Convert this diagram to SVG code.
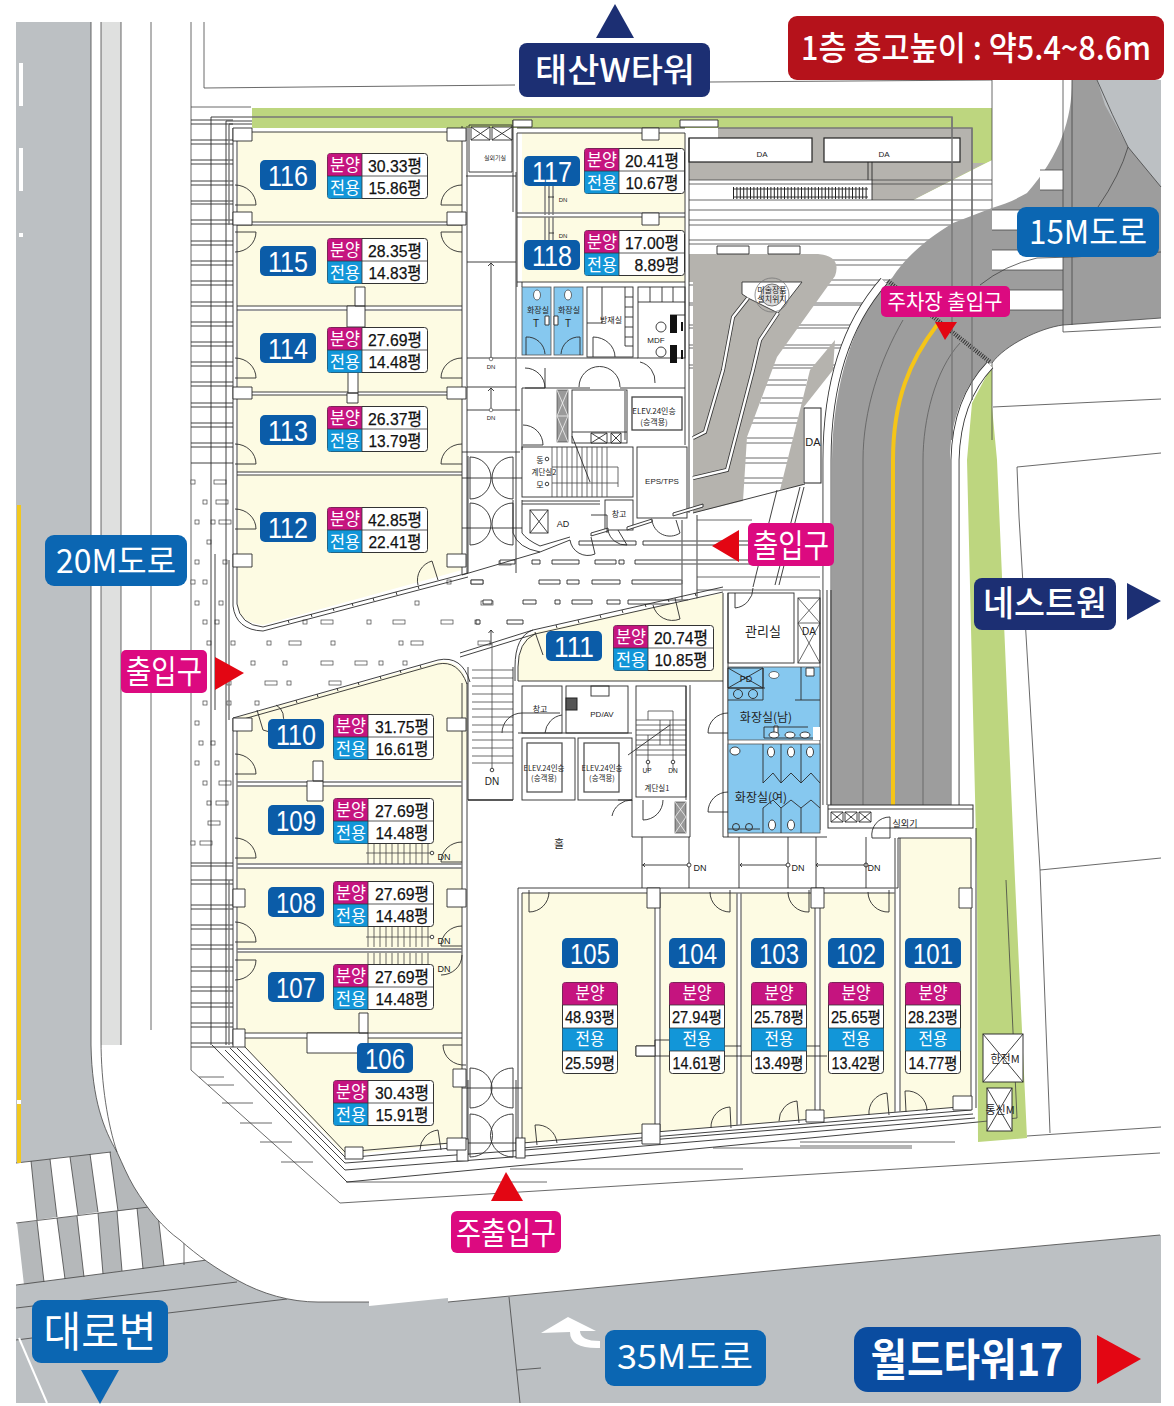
<svg xmlns="http://www.w3.org/2000/svg" width="1174" height="1406" viewBox="0 0 1174 1406">
<style>
text{font-family:"Liberation Sans","Noto Sans CJK KR",sans-serif;text-anchor:middle}
.k{font-family:"Noto Sans CJK KR","Liberation Sans",sans-serif}
.w{fill:none;stroke:#2b2b2b;stroke-width:.9}
.t{fill:none;stroke:#444;stroke-width:.8}
.g{fill:none;stroke:#777;stroke-width:1.4}
.c{fill:#fff;stroke:#2b2b2b;stroke-width:.9}
.d{fill:none;stroke:#2b2b2b;stroke-width:.9}
.s{fill:#b5b3ae}
.y{fill:#fdfbe3}
.b{fill:#86c8ef;stroke:#555;stroke-width:.8}
.n{fill:#fff;font-size:29px}
.bn{fill:#0b5ca8}
.l{fill:#fff;font-size:17px}
.v{fill:#111;font-size:17px;stroke:#111;stroke-width:.25}
.f{fill:#222;font-size:8px}
.big{fill:#fff}
.pk{fill:#dc0a80}
.rd{fill:#e30613}
.nv{fill:#1c2f73}
.bl{fill:#0b66b2}
</style>
<defs>
<g id="th"><rect x=".5" y=".5" width="100" height="45" rx="3" fill="#fff" stroke="#333"/><path d="M.5,23V3Q.5,.5 3,.5H35V23Z" fill="#c5147f"/><path d="M.5,23H35V45.5H3Q.5,45.5 .5,43Z" fill="#1296d8"/><path d="M.5,23H100.5M35,.5V45.5" fill="none" stroke="#333" stroke-width=".8"/></g>
<g id="tv"><rect x=".5" y=".5" width="55" height="91" rx="3" fill="#fff" stroke="#333"/><path d="M.5,23V3Q.5,.5 3,.5H53Q55.5,.5 55.5,3V23Z" fill="#c5147f"/><rect x=".5" y="46" width="55" height="23" fill="#1296d8"/><path d="M.5,23H55.5M.5,46H55.5M.5,69H55.5" fill="none" stroke="#333" stroke-width=".8"/></g>
<rect id="ps" width="4" height="4" fill="#fff" stroke="#444" stroke-width=".7"/>
<rect id="pw" width="12" height="4" fill="#fff" stroke="#444" stroke-width=".7"/>
</defs>
<rect width="1174" height="1406" fill="#fff"/>
<g id="site">
<rect x="16" y="22" width="1145" height="1381" fill="#bcc0c3"/>
<path d="M16,1163L111,1152L207,1260L16,1285Z" fill="#fff"/>
<path d="M31,1161L50,1159L57,1217L37,1220ZM70,1157L90,1154L98,1212L78,1215ZM110,1152L140,1148L160,1206L118,1211ZM17,1223L37,1221L44,1282L24,1285ZM57,1218L77,1216L84,1277L65,1279ZM98,1213L117,1211L122,1271L103,1274ZM137,1208L157,1206L164,1266L143,1269Z" fill="#b5b8ba"/>
<path class="t" d="M16,1163L111,1152M16,1223L149,1207M16,1285L207,1260M16,1308L237,1282M168,1313L287,1299M16,1340L32,1338M31,1161L37,1220M50,1159L57,1217M70,1157L78,1215M90,1154L98,1212M110,1152L118,1211M37,1221L44,1282M57,1218L65,1279M77,1216L84,1277M98,1213L103,1274M117,1211L122,1271M137,1208L143,1269M157,1206L164,1266M184,1202L184,1265"/>
<path d="M91,0V1045C92,1100 104,1130 117,1152C123,1165 127,1175 134,1187C148,1210 163,1228 180,1240C198,1256 215,1268 237,1280C262,1294 290,1302 318,1302H369V1306L448,1298V1302L800,1268L1160,1235H1174V0Z" fill="#fff"/>
<path class="t" d="M91,22V1045C92,1100 104,1130 117,1152C123,1165 127,1175 134,1187C148,1210 163,1228 180,1240C198,1256 215,1268 237,1280C262,1294 290,1302 318,1302H369M448,1302L800,1268L1160,1235"/>
<rect x="101" y="22" width="20" height="1023" fill="#dfe0df"/>
<path class="t" d="M101,22V1040C101,1085 108,1125 117,1152M121,22V1045M151,22V1030M191,22V1070M204,22V88L515,85M710,82L992,80M191,107H251"/>
<path d="M19,63h4v43h-4zM19,148h4v43h-4zM19,233h4v4h-4z" fill="#fff"/>
<rect x="17" y="505" width="4" height="658" fill="#f2c81e"/>
<rect x="17" y="1100" width="4" height="4" fill="#fff"/>
<path d="M19,1338L47,1403" stroke="#fff" stroke-width="2" fill="none"/>
<path d="M541,1333L568,1317L596,1331H580Q580,1341 600,1341V1348Q570,1349 570,1332Z" fill="#fff"/>
<path class="t" d="M509,1297L520,1403M517,1370L541,1368"/>
<path class="t" d="M191,1070L340,1203L1160,1153M346,1182H547M510,1169H743M713,1148H912M912,1146H800M800,1142H955"/>
<path class="t" d="M1017,467L1161,453M1017,467L1019,517L1040,870L1050,1133M1040,870L1161,858M1027,1136L1161,1127M993,407L1161,399"/>
</g>
<g id="landscape">
<rect x="252" y="108" width="740" height="20" fill="#bdd67f"/>
<path d="M718,128H992V160L913,200H872V180H689V138H718Z" fill="#bdd67f"/>
<path class="s" d="M718,128H972V163H985L913,200H872V180H689V138H718Z"/>
<path d="M973,128H992V160L985,163H973Z" fill="#bdd67f"/>
<path class="g" d="M252,117H952V440M718,128H972V400"/>
<path d="M992,365L992,407L997,460L1015,880L1027,1138L978,1142L977,880L967,460L972,403Z" fill="#bdd67f"/>
<path class="t" d="M1006,880L1017,1118L978,1122M992,80V440"/>
<path class="t" d="M689,180H992M689,184H992M689,200H992M689,210H992M689,220H992M689,225H992M689,240H992M689,244H992M689,260H992M689,265H992M689,280H992M689,285H992M689,303H880M689,305H880M689,325H860M689,328H860M689,345H850M689,348H850M689,365H840M689,368H840"/>
<line x1="733" y1="193" x2="868" y2="193" stroke="#222" stroke-width="12" stroke-dasharray="1 2.4"/>
<path class="w" d="M733,189H868M733,197H868"/>
<path class="w" d="M872,162V200M868,162V180"/>
<path class="t" d="M768,380H807M766,385H806M762,398H803M760,403H802M754,418H798M752,423H797M747,438H793M746,443H792M745,458H788M745,463H787M744,478H783M744,483H782"/>
<path class="s" d="M689,254H818Q842,256 835,276L777,357L747,437L743,501L693,513V282H689Z"/>
<path class="s" d="M833,370L803,408V485L780,490L810,370L835,340Z"/>
<path class="w" d="M693,513L805,484"/>
<path d="M742,282H802L778,313L748,298L742,294Z" fill="#fff" stroke="#333" stroke-width=".9"/>
<path d="M748,298L733,317L723,370L705,432L693,438M778,313L760,340L753,370L727,470L693,478" fill="none" stroke="#333" stroke-width="4"/>
<path d="M748,298L733,317L723,370L705,432L693,438M778,313L760,340L753,370L727,470L693,478" fill="none" stroke="#fff" stroke-width="2.4"/>
<path class="c" d="M717,246h32v8h-32zM768,246h32v8h-32z"/>
<circle cx="772" cy="295" r="17" fill="none" stroke="#777" stroke-width=".8"/>
<circle cx="772" cy="295" r="11" fill="#999" fill-opacity=".35" stroke="#555" stroke-width=".8"/>
<text class="k f" x="772" y="293" style="font-size:8px">미술장품</text>
<text class="k f" x="772" y="302" style="font-size:8px">설치위치</text>
<rect x="689" y="138" width="123" height="24" fill="#fff" stroke="#222" stroke-width="1.2"/>
<rect x="824" y="138" width="136" height="24" fill="#fff" stroke="#222" stroke-width="1.2"/>
<text class="f" x="762" y="157">DA</text>
<text class="f" x="884" y="157">DA</text>
</g>
<g id="ramp">
<path d="M1072,80C1072,120 1060,155 1027,193C1015,200 1005,204 992,208L953,223C925,240 905,258 892,278L885,283C855,320 833,380 832,460V805H950V460C950,420 965,385 985,365L992,363C1005,345 1040,328 1063,325L1161,318V80Z" fill="#9d9d9d"/>
<path d="M1097,80L1105,105L1128,147L1161,187V80Z" fill="#bcc0c3"/>
<path d="M992,210h71v20h-71zM992,250h71v20h-71zM992,290h71v20h-71zM1040,170h23v20h-23z" fill="#fff"/>
<path class="t" d="M1063,80V332L1161,327M1072,80V325M1098,207Q1120,175 1128,147Q1112,115 1097,80M1128,147L1161,187M980,285Q1005,265 1037,258L1073,257L1161,252M992,210H1063M992,230H1063M992,250H1063M992,270H1063M992,290H1063M992,310H1063M1040,190H1063M1040,170H1063M992,363C1005,345 1040,328 1063,325L1161,318"/>
<path d="M863,805V460C863,410 880,360 903,320M923,805V460C923,420 935,370 960,343" fill="none" stroke="#555" stroke-width=".7"/>
<path d="M893,805V460C893,400 910,360 937,325" fill="none" stroke="#f5c518" stroke-width="4"/>
<path d="M884,281C848,322 827,380 827,460V805" fill="none" stroke="#333" stroke-width="9"/>
<path d="M884,281C848,322 827,380 827,460V805" fill="none" stroke="#fff" stroke-width="7.2"/>
<path d="M990,365C968,388 956,420 955,460V805" fill="none" stroke="#333" stroke-width="9"/>
<path d="M990,365C968,388 956,420 955,460V805" fill="none" stroke="#fff" stroke-width="7.2"/>
<line x1="888" y1="281" x2="990" y2="362" stroke="#333" stroke-width="4.5" stroke-dasharray="1 1.3"/>
<path class="g" d="M952,117V440M972,128V400"/>
<rect x="804" y="408" width="17" height="75" fill="#fff" stroke="#222"/>
<text class="f" x="813" y="446" style="font-size:11px">DA</text>
<path d="M804,487L779,585M800,487L775,585M777,490L753,587" class="w"/>
</g>
<g id="paving">
<use href="#ps" x="447" y="580"/><use href="#pw" x="471" y="580"/><use href="#ps" x="415" y="601"/><use href="#pw" x="481" y="601"/><use href="#ps" x="303" y="620"/><use href="#pw" x="321" y="620"/><use href="#ps" x="367" y="620"/><use href="#pw" x="393" y="620"/><use href="#pw" x="441" y="620"/><use href="#ps" x="475" y="620"/><use href="#pw" x="499" y="561"/><use href="#ps" x="267" y="641"/><use href="#pw" x="289" y="641"/><use href="#ps" x="331" y="641"/><use href="#ps" x="399" y="641"/><use href="#pw" x="411" y="641"/><use href="#pw" x="478" y="641"/><use href="#ps" x="231" y="641"/><use href="#ps" x="207" y="641"/><use href="#ps" x="251" y="661"/><use href="#ps" x="283" y="661"/><use href="#pw" x="321" y="661"/><use href="#pw" x="355" y="661"/><use href="#ps" x="379" y="661"/><use href="#ps" x="403" y="661"/><use href="#pw" x="265" y="681"/><use href="#ps" x="287" y="681"/><use href="#pw" x="329" y="681"/><use href="#ps" x="227" y="681"/><use href="#ps" x="255" y="701"/><use href="#ps" x="227" y="701"/><use href="#ps" x="203" y="701"/><use href="#ps" x="203" y="620"/><use href="#ps" x="215" y="620"/><use href="#ps" x="195" y="601"/><use href="#ps" x="219" y="601"/><use href="#ps" x="195" y="560"/><use href="#ps" x="223" y="560"/><use href="#ps" x="191" y="580"/><use href="#ps" x="203" y="580"/><use href="#ps" x="203" y="500"/><use href="#pw" x="216" y="500"/><use href="#ps" x="195" y="520"/><use href="#ps" x="211" y="520"/><use href="#pw" x="219" y="520"/><use href="#ps" x="207" y="540"/><use href="#ps" x="191" y="480"/><use href="#pw" x="214" y="480"/><use href="#ps" x="195" y="721"/><use href="#ps" x="199" y="741"/><use href="#ps" x="211" y="741"/><use href="#ps" x="195" y="761"/><use href="#ps" x="215" y="761"/><use href="#ps" x="203" y="781"/><use href="#pw" x="219" y="781"/><use href="#ps" x="207" y="801"/><use href="#pw" x="216" y="801"/><use href="#pw" x="208" y="821"/><use href="#ps" x="191" y="841"/><use href="#pw" x="200" y="841"/>
<path class="c" d="M579,541h57v4h-57zM643,541h107v4h-107zM500,560h15v4h-15zM532,560h8v4h-8zM552,560h27v4h-27zM595,560h21v4h-21zM619,560h5v4h-5zM635,560h118v4h-118zM471,580h12v4h-12zM539,580h21v4h-21zM567,580h12v4h-12zM592,580h28v4h-28zM632,580h50v4h-50zM483,600h9v4h-9zM523,600h13v4h-13zM555,600h5v4h-5zM572,600h20v4h-20zM607,600h13v4h-13zM628,600h60v4h-60zM476,620h4v4h-4zM507,620h16v4h-16z"/>
<path class="g" d="M682,520V600M697,515V600"/>
<path class="t" d="M697,520H752M697,577H820M697,590H820"/>
</g>
<g id="stores">
<path class="y" d="M238,132H462V222H238ZM238,225H462V306H238ZM238,311H462V392H238ZM238,395H462V472H238ZM238,475H462V570L263,625Q238,622 238,605Z"/>
<path class="y" d="M238,717L438,662Q462,660 467,683V780H238ZM238,786H462V863H238ZM238,868H462V948H238ZM238,953H462V1033H238ZM245,1038H462V1143L345,1155L245,1047Z"/>
<path class="y" d="M518,681V667Q518,640 535,632L723,593V681Z"/>
<path class="y" d="M522,133H685V212H522ZM522,217H685V282H522Z"/>
<path class="y" d="M522,893H655V1132L522,1143ZM660,893H737V1125L660,1131.600ZM741,893H815V1119L741,1125ZM820,893H895V1112L820,1118.400ZM900,838H971V1106L900,1112Z"/>
</g>
<g id="walls">
<path class="w" d="M191,120H233M191,124H233M191,140H233M191,144H233M191,160H233M191,164H233M191,181H233M191,185H233M191,201H233M191,204H233M191,220H233M191,224H233M191,241H233M191,245H233M191,261H233M191,265H233M191,281H233M191,285H233M191,302H233M191,306H233M191,322H233M191,326H233M191,342H233M191,346H233M191,362H233M191,366H233M191,382H233M191,386H233M191,403H233M191,407H233M191,423H233M191,427H233M191,443H233M191,447H233M191,463H233M191,863H233M191,866H233M191,880H233M191,884H233M191,905H233M191,909H233M191,925H233M191,929H233M191,945H233M191,949H233M191,967H233M191,971H233M191,987H233M191,991H233M191,1003H233M191,1007H233M191,1023H233M191,1027H233M191,1043H233M191,1047H233"/>
<path class="w" d="M211,117V1045M226,121V1045M215,554V710"/>
<path class="g" d="M229,124V225M229,560V720M229,880V1045"/>
<path class="w" d="M211,117H252M226,121H252M229,124H252"/>
<path class="w" d="M233,128V606Q236,630 263,631L468,577M237,128V604Q240,625 263,627L468,573M233,718V1045M237,718V1045"/>
<path class="w" d="M462,126V574M467,126V573M462,683V1142M467,683V1150"/>
<path class="w" d="M233,132H466M237,222H462M237,225H462M237,306H462M237,310H462M237,392H462M237,395H462M237,472H462M237,475H462"/>
<path class="g" d="M237,782H462M237,786H462M237,864H462M237,868H462M237,949H462M237,952H462"/>
<path class="w" d="M237,1033H462M237,1038H462"/>
<path class="w" d="M233,718L438,660Q462,655 470,682M233,722L438,664Q458,660 467,684M468,667V800"/>
<path class="w" d="M460,653L533,630L723,587M460,657L535,634L723,592M518,681V667Q518,642 535,634M515,681V667Q515,636 533,630"/>
<path class="w" d="M556,625l1,3M578,620l1,3M600,615l1,3M622,610l1,3M645,604l1,3M668,599l1,3M695,593l1,3"/>
<path class="w" d="M491,630V645M488.500,633l2.500,-3l2.500,3"/>
<path class="w" d="M212,1045L347,1182M225,1050L345,1170M230,1048L345,1163M237,1048L345,1157M245,1047L345,1152"/>
<path class="t" d="M199,1077H224M208,1085H234M222,1103H253M240,1123H272M260,1142H292M281,1162H313"/>
<path class="w" d="M345,1152L462,1142M345,1158L462,1147M345,1163L525,1150L973,1114M345,1170L525,1156L975,1118M347,1182L978,1122"/>
<path class="w" d="M522,1143L971,1106M522,1148L971,1110"/>
<path class="w" d="M518,888H898M522,893H895M518,888V1145M522,893V1145"/>
<path class="g" d="M655,893V1132M660,893V1131M737,893V1125M741,893V1125M815,893V1119M820,893V1118M895,838V1112M900,838V1112"/>
<path class="w" d="M898,838H971V1106M976,828V1108M636,1046H655V1040H669M636,1056H827M725,1046H741M806,1046H820M636,1046V1056"/>
<path class="w" d="M513,120V212M517,128H685M517,133H685M517,133V287M689,138V282M685,133V358M689,282V513M517,213H685M517,217H685M517,282H685M522,282V287"/>
<path class="w" d="M469,125H512V172H469ZM466,176H516"/>
<path class="c" d="M471,127h19v13h-19zM492,127h20v13h-20z"/>
<path class="w" d="M471,127l19,13M490,127l-19,13M492,127l20,13M512,127l-20,13"/>
<path class="w" d="M467,262H516M467,358H516M467,387H516M467,410H520M516,172V456"/>
<path class="w" d="M491,263V358M491,388V408M488,266l3,-3l3,3M488,391l3,-3l3,3"/>
<circle cx="491" cy="359" r="1.800" fill="#fff" stroke="#333" stroke-width=".6"/>
<circle cx="491" cy="410" r="1.800" fill="#fff" stroke="#333" stroke-width=".6"/>
<text class="f" x="491" y="369" style="font-size:6px">DN</text>
<text class="f" x="491" y="420" style="font-size:6px">DN</text>
<text class="k f" x="495" y="160" style="font-size:6px">실외기실</text>
<path class="g" d="M545,172V215M549,172V215M553,172V215"/>
<path class="g" d="M545,217V250M549,217V250M553,217V250"/>
<text class="f" x="563" y="202" style="font-size:6px">DN</text>
<text class="f" x="563" y="238" style="font-size:6px">DN</text>
<path class="w" d="M548,197h6M549,233h5"/>
<path class="c" d="M642,128h17v12h-17zM642,213h17v12h-17zM513,120h19v7h-19zM680,120h38v7h-38z"/>
<rect x="522" y="287" width="29" height="68" class="b"/>
<rect x="554" y="287" width="29" height="68" class="b"/>
<ellipse cx="537" cy="295" rx="3.500" ry="5" fill="#fff" stroke="#333" stroke-width=".7"/>
<ellipse cx="568" cy="295" rx="3.500" ry="5" fill="#fff" stroke="#333" stroke-width=".7"/>
<text class="k f" x="538" y="313">화장실</text>
<text class="k f" x="569" y="313">화장실</text>
<text class="f" x="536" y="327" style="font-size:10px">T</text>
<text class="f" x="568" y="327" style="font-size:10px">T</text>
<path class="c" d="M545,316h4v9h-4zM554,316h4v9h-4z"/>
<path class="d" d="M526,355V337A18,18 0 0 1 545,354M580,355V337A18,18 0 0 0 561,354"/>
<rect x="587" y="287" width="46" height="70" class="w"/>
<path class="w" d="M602,287V323H587M625,287V346H633M625,297H633M625,307H633M625,317H633M625,327H633M625,337H633"/>
<text class="k f" x="611" y="323">방재실</text>
<path class="d" d="M593,357V337A22,20 0 0 1 615,357"/>
<rect x="638" y="287" width="47" height="71" class="w"/>
<path class="w" d="M638,302H685M650,287V302M662,287V302M673,287V302M670,315H685"/>
<circle cx="661" cy="327" r="5" class="c"/><circle cx="661" cy="352" r="5" class="c"/>
<path d="M670,315h7v18h-7zM670,345h7v18h-7zM681,322h2v9h-2zM681,350h2v9h-2z" fill="#111"/>
<text class="f" x="656" y="343">MDF</text>
<path class="w" d="M517,358H638M522,388H590M620,388H685M522,388V450M545,388V368"/>
<path class="d" d="M525,368A20,20 0 0 1 545,388H525M579,387A20,20 0 0 1 620,387M640,362A20,20 0 0 1 655,383"/>
<rect x="557" y="390" width="11" height="52" fill="#9a9a9a" stroke="#333" stroke-width=".6"/>
<path d="M557,390l11,26M568,390l-11,26M557,416l11,26M568,416l-11,26M557,416h11" fill="none" stroke="#fff" stroke-width=".7"/>
<rect x="572" y="390" width="55" height="53" class="w"/>
<rect x="632" y="397" width="50" height="33" fill="#fff" stroke="#444" stroke-width="1.300"/>
<text class="k f" x="654" y="414">ELEV.24인승</text>
<text class="k f" x="654" y="425">(승객용)</text>
<path class="w" d="M572,432H627M625,391V440M685,358V445"/>
<path class="c" d="M591,433h16v10h-16zM611,433h10v10h-10z"/>
<path class="w" d="M591,433l16,10M607,433l-16,10M611,433l10,10M621,433l-10,10"/>
<path class="d" d="M523,425A20,20 0 0 1 543,445H523"/>
<rect x="522" y="447" width="111" height="50" class="w"/>
<path class="t" d="M552,447V497M557,447V497M562,447V497M567,447V497M572,447V497M577,447V497M582,447V497M587,447V497M592,447V497M597,447V497M602,447V497M607,447V497M552,467H618V487M552,483H618"/>
<path class="w" d="M572,436L590,482"/>
<text class="k f" x="540" y="463">동</text><text class="k f" x="540" y="488">모</text>
<circle cx="547" cy="459" r="1.800" class="c"/><circle cx="547" cy="484" r="1.800" class="c"/>
<text class="k f" x="544" y="475" style="font-size:7.500px">계단실2</text>
<rect x="637" y="447" width="50" height="71" class="w"/>
<text class="f" x="662" y="484">EPS/TPS</text>
<rect x="605" y="500" width="28" height="30" class="w"/>
<text class="k f" x="619" y="517">창고</text>
<path class="w" d="M513,500V533Q518,548 540,552L570,540M522,500V533Q527,540 540,546L570,537M522,501H600M522,504H600"/>
<rect x="530" y="510" width="18" height="23" class="w"/>
<path class="w" d="M530,510l18,23M548,510l-18,23"/>
<text class="f" x="563" y="527" style="font-size:9px">AD</text>
<path class="c" d="M591,533l17,-5v3l-17,5zM627,527l25,-8v3l-25,8zM673,513l30,-9v3l-30,9z"/>
<path class="w" d="M591,515h16v18M570,540A18,18 0 0 0 595,554L591,537M608,530A18,18 0 0 0 627,545L618,530M652,520A18,18 0 0 0 680,533L676,520"/>
<path class="w" d="M462,575L540,552M462,452H520M468,456V573M516,456V573"/>
<path class="d" d="M470,457V499A21,21 0 0 0 470,457ZM513,457V499A21,21 0 0 1 513,457ZM470,503V545A21,21 0 0 0 470,503ZM513,503V545A21,21 0 0 1 513,503Z"/>
<path class="w" d="M462,478H522M462,528H522"/>
<path class="d" d="M470,1068V1108A22,20 0 0 0 470,1068ZM513,1068V1108A22,20 0 0 1 513,1068ZM470,1114V1157A22,21 0 0 0 470,1114ZM513,1114V1157A22,21 0 0 1 513,1114Z"/>
<path class="w" d="M462,1088H522M462,1143H522M468,1080V1155M516,1080V1150"/>
<rect x="457" y="1139" width="11" height="22" class="c"/><rect x="516" y="1138" width="9" height="20" class="c"/>
<rect x="728" y="593" width="66" height="70" class="w"/>
<text class="k f" x="763" y="636" style="font-size:13px">관리실</text>
<rect x="798" y="598" width="22" height="65" class="w"/>
<path class="t" d="M798,598l22,25M820,598l-22,25M798,623h22M798,623l22,40M820,623l-22,40"/>
<text class="f" x="809" y="635" style="font-size:10px">DA</text>
<path class="d" d="M735,593V608A20,20 0 0 0 753,588"/>
<path class="w" d="M723,593V837M728,593V837M820,590V830M827,590V805M831,590V805"/>
<rect x="728" y="667" width="92" height="73" class="b"/>
<rect x="728" y="744" width="92" height="89" class="b"/>
<path class="w" d="M728,668H763V688H728ZM728,668l35,20M763,668l-35,20M728,700H763V668M728,688H765M801,667V700M795,700H820"/>
<circle cx="738" cy="694" r="4.500" fill="none" stroke="#333"/><circle cx="753" cy="694" r="4.500" fill="none" stroke="#333"/>
<text class="f" x="746" y="682" style="font-size:9px">PD</text>
<ellipse cx="774" cy="675" rx="5" ry="3.500" fill="#fff" stroke="#333" stroke-width=".7"/>
<path class="c" d="M806,668h8v8h-8zM774,726h4v9h-4z"/>
<path class="w" d="M764,727H808M764,738H815M764,727V738"/>
<ellipse cx="774" cy="735" rx="5" ry="3" class="c"/><ellipse cx="790" cy="735" rx="5" ry="3" class="c"/><ellipse cx="805" cy="735" rx="5" ry="3" class="c"/>
<rect x="813" y="727" width="7" height="13" fill="#fff"/>
<text class="k" x="766" y="722" style="font-size:12px;fill:#222">화장실(남)</text>
<path class="w" d="M763,744V783M781,744V783M801,744V783M763,808V833M781,808V833M801,808V833M728,829H760"/>
<ellipse cx="735" cy="751" rx="5" ry="4" class="c"/><ellipse cx="771" cy="752" rx="3.500" ry="5" class="c"/><ellipse cx="791" cy="752" rx="3.500" ry="5" class="c"/><ellipse cx="810" cy="752" rx="3.500" ry="5" class="c"/><ellipse cx="772" cy="825" rx="3.500" ry="5" class="c"/><ellipse cx="791" cy="825" rx="3.500" ry="5" class="c"/><circle cx="736" cy="827" r="3.500" fill="none" stroke="#333"/><circle cx="749" cy="827" r="3.500" fill="none" stroke="#333"/>
<path class="w" d="M763,783L773,773L781,783M781,783L791,773L801,783M801,783L811,773L820,783M763,808L773,800L781,808M781,808L791,800L801,808M801,808L811,800L820,808"/>
<text class="k" x="761" y="802" style="font-size:12px;fill:#222">화장실(여)</text>
<path class="d" d="M728,713A20,20 0 0 0 708,733H728M728,792A20,20 0 0 0 708,812H728"/>
<rect x="522" y="686" width="40" height="47" class="w"/>
<text class="k f" x="540" y="712">창고</text>
<rect x="566" y="686" width="62" height="47" class="w"/>
<text class="f" x="602" y="717">PD/AV</text>
<rect x="566" y="698" width="11" height="12" fill="#555" stroke="#222"/>
<rect x="591" y="686" width="18" height="10" class="w"/>
<path class="d" d="M502,733A20,20 0 0 1 522,713H560M545,733A20,20 0 0 1 562,715"/>
<path class="w" d="M518,681H723M518,733H632"/>
<rect x="636" y="686" width="50" height="111" class="w"/>
<path class="t" d="M636,720H686M636,725H686M636,730H686M636,735H686M636,740H686M636,745H686M636,750H686M636,755H686M648,720V711H673V771M648,735V771M660,720V745M670,720V745"/>
<path class="w" d="M628,755L670,725"/>
<circle cx="648" cy="762" r="1.800" class="c"/><circle cx="673" cy="762" r="1.800" class="c"/>
<text class="f" x="647" y="773" style="font-size:6.500px">UP</text>
<text class="f" x="673" y="773" style="font-size:6.500px">DN</text>
<text class="k f" x="657" y="791" style="font-size:7.500px">계단실1</text>
<rect x="522" y="738" width="53" height="62" class="w"/><rect x="578" y="738" width="54" height="62" class="w"/>
<rect x="527" y="743" width="35" height="49" fill="#fff" stroke="#555" stroke-width="1.300"/>
<rect x="584" y="743" width="35" height="49" fill="#fff" stroke="#555" stroke-width="1.300"/>
<text class="k f" x="544" y="771" style="font-size:7.500px">ELEV.24인승</text><text class="k f" x="544" y="781" style="font-size:7.500px">(승객용)</text>
<text class="k f" x="602" y="771" style="font-size:7.500px">ELEV.24인승</text><text class="k f" x="602" y="781" style="font-size:7.500px">(승객용)</text>
<path class="t" d="M472,670H513M472,678H513M472,686H513M472,694H513M472,702H513M472,709H513M472,717H513M472,725H513M472,732H513M472,740H513M472,748H513M472,756H513M472,763H513M492,643V770"/>
<circle cx="492" cy="770" r="1.800" class="c"/>
<text class="f" x="492" y="785" style="font-size:10px">DN</text>
<path d="M468,800H513" stroke="#222" stroke-width="1.600"/>
<path class="w" d="M513,667V800M632,800V837H690M686,800V686M690,685V837"/>
<path class="d" d="M612,816A20,20 0 0 1 632,800H618M643,800V820A20,20 0 0 0 663,800"/>
<rect x="675" y="802" width="11" height="31" fill="#999" stroke="#333" stroke-width=".6"/>
<path d="M675,802l11,15M686,802l-11,15M675,817l11,16M686,817l-11,16" fill="none" stroke="#fff" stroke-width=".7"/>
<text class="k" x="559" y="848" style="font-size:11px;fill:#222">홀</text>
<path class="w" d="M723,837H827M642,837V888M689,837V888M739,837V888M788,837V888M816,837V888M642,865H689M740,865H788M816,865H866"/>
<circle cx="689" cy="865" r="2" class="c"/><circle cx="788" cy="865" r="2" class="c"/><circle cx="866" cy="865" r="2" class="c"/>
<text class="f" x="700" y="871" style="font-size:9px">DN</text><text class="f" x="798" y="871" style="font-size:9px">DN</text><text class="f" x="874" y="871" style="font-size:9px">DN</text>
<path class="w" d="M645,863l-2,2l2,2M742,863l-2,2l2,2M818,863l-2,2l2,2"/>
<path class="w" d="M866,837V888M898,838V888"/>
<rect x="828" y="805" width="145" height="23" fill="#fff" stroke="#333"/>
<path class="w" d="M828,809H973M831,812h12v10h-12zM845,812h12v10h-12zM859,812h12v10h-12zM831,812l12,10M843,812l-12,10M845,812l12,10M857,812l-12,10M859,812l12,10M871,812l-12,10"/>
<text class="k f" x="905" y="827" style="font-size:9px">실외기</text>
<path class="d" d="M890,817A18,18 0 0 0 872,838H890V817"/>
<path class="t" d="M366,853H430M368,844V864M374,844V864M380,844V864M386,844V864M392,844V864M398,844V864M404,844V864M410,844V864M416,844V864M422,844V864M428,844V864"/>
<circle cx="432" cy="853" r="1.800" class="c"/>
<text class="f" x="444" y="860" style="font-size:9px">DN</text>
<path class="t" d="M366,937H430M368,927V947M374,927V947M380,927V947M386,927V947M392,927V947M398,927V947M404,927V947M410,927V947M416,927V947M422,927V947M428,927V947"/>
<circle cx="432" cy="937" r="1.800" class="c"/>
<text class="f" x="444" y="944" style="font-size:9px">DN</text>
<text class="f" x="444" y="972" style="font-size:9px">DN</text>
<path class="t" d="M368,953V965M374,953V965M380,953V965M386,953V965M392,953V965M398,953V965M404,953V965M410,953V965M416,953V965M422,953V965M428,953V965"/>
<path class="d" d="M235,185A21,20 0 0 1 256,205H235M462,185A21,20 0 0 0 441,205H462M235,232H256A21,20 0 0 1 235,252M462,232H441A21,20 0 0 0 462,252M235,358A21,20 0 0 1 256,378H235M462,358A21,20 0 0 0 441,378H462M235,444A21,20 0 0 1 256,464H235M462,444A21,20 0 0 0 441,464H462M235,509A21,20 0 0 1 256,529H235M235,754A21,20 0 0 1 256,774H235M235,838A21,20 0 0 1 256,858H235M462,842A21,20 0 0 0 441,862H462M235,922A21,20 0 0 1 256,942H235M462,926A21,20 0 0 0 441,946H462M235,960H256A21,20 0 0 1 235,980M462,955A21,20 0 0 1 441,975M462,1045H443A21,20 0 0 0 466,1065M438,1130L441,1150M438,1130A21,20 0 0 0 420,1150M432,561L438,580M432,561A20,20 0 0 0 418,585M257,710L263,730A14,14 0 0 0 276,705M535,632L543,655M675,598L680,619A20,20 0 0 1 653,605"/>
<path class="d" d="M529,890V912A20,20 0 0 0 549,892M730,890V912A20,20 0 0 1 710,892M809,890V912A20,20 0 0 1 788,892M889,890V912A20,20 0 0 1 868,892M535,1125L537,1145M535,1125A20,20 0 0 1 557,1143M730,1107L731,1128M730,1107A20,20 0 0 0 711,1128M797,1101L799,1123M797,1101A20,20 0 0 0 779,1121M887,1093L889,1115M887,1093A20,20 0 0 0 869,1115M905,1091L906,1112M905,1091A20,20 0 0 1 927,1111"/>
<path class="c" d="M233,128h19v13h-19zM447,128h19v13h-19zM233,212h19v13h-19zM447,212h19v13h-19zM233,387h19v12h-19zM447,387h19v12h-19zM233,554h19v13h-19zM447,554h19v13h-19zM233,718h19v13h-19zM447,718h19v13h-19zM233,889h12v18h-12zM447,889h19v18h-19zM233,1029h12v18h-12zM453,1069h13v18h-13zM345,1147h18v12h-18zM447,1138h19v12h-19zM647,888h13v20h-13zM811,888h13v20h-13zM959,888h13v20h-13zM642,1124h18v20h-18zM806,1110h18v12h-18zM953,1096h19v14h-19z"/>
<path class="c" d="M355,287h10v19h-10zM347,306h18v21h-18zM348,372h10v21h-10zM347,393h11v10h-11zM313,761h10v20h-10zM307,781h16v20h-16zM359,1013h9v20h-9zM307,1033h61v20h-61zM636,1046h19v10h-19z"/>
<path class="w" d="M288,620l1,3M311,614l1,3M333,608l1,3M352,603l1,3M373,598l1,3M396,592l1,3M418,586l1,3M296,700l1,3M317,694l1,3M337,688l1,3M358,682l1,3M380,676l1,3M400,670l1,3M420,665l1,3"/>
<rect x="983" y="1034" width="40" height="48" fill="#fff" stroke="#333"/>
<path class="w" d="M983,1034l40,48M1023,1034l-40,48"/>
<text class="k f" x="1005" y="1063" style="font-size:11px">한전M</text>
<rect x="987" y="1088" width="25" height="43" fill="#fff" stroke="#333"/>
<path class="w" d="M987,1088l25,43M1012,1088l-25,43"/>
<text class="k f" x="1000" y="1114" style="font-size:11px">통신M</text>
</g>
<g id="unit-116"><rect class="bn" x="260" y="160" width="56" height="30" rx="5"/><text class="n" x="288" y="186" textLength="40" lengthAdjust="spacingAndGlyphs">116</text><use href="#th" x="327" y="153"/><text class="k l" x="345" y="171" textLength="30" lengthAdjust="spacingAndGlyphs">분양</text><text class="k l" x="345" y="194" textLength="30" lengthAdjust="spacingAndGlyphs">전용</text><text class="v" x="395" y="172" textLength="54" lengthAdjust="spacingAndGlyphs">30.33평</text><text class="v" x="395" y="194" textLength="53" lengthAdjust="spacingAndGlyphs">15.86평</text></g>
<g id="unit-115"><rect class="bn" x="260" y="246" width="56" height="30" rx="5"/><text class="n" x="288" y="272" textLength="40" lengthAdjust="spacingAndGlyphs">115</text><use href="#th" x="327" y="238"/><text class="k l" x="345" y="256" textLength="30" lengthAdjust="spacingAndGlyphs">분양</text><text class="k l" x="345" y="279" textLength="30" lengthAdjust="spacingAndGlyphs">전용</text><text class="v" x="395" y="257" textLength="54" lengthAdjust="spacingAndGlyphs">28.35평</text><text class="v" x="395" y="279" textLength="53" lengthAdjust="spacingAndGlyphs">14.83평</text></g>
<g id="unit-114"><rect class="bn" x="260" y="333" width="56" height="30" rx="5"/><text class="n" x="288" y="359" textLength="40" lengthAdjust="spacingAndGlyphs">114</text><use href="#th" x="327" y="327"/><text class="k l" x="345" y="345" textLength="30" lengthAdjust="spacingAndGlyphs">분양</text><text class="k l" x="345" y="368" textLength="30" lengthAdjust="spacingAndGlyphs">전용</text><text class="v" x="395" y="346" textLength="54" lengthAdjust="spacingAndGlyphs">27.69평</text><text class="v" x="395" y="368" textLength="53" lengthAdjust="spacingAndGlyphs">14.48평</text></g>
<g id="unit-113"><rect class="bn" x="260" y="415" width="56" height="30" rx="5"/><text class="n" x="288" y="441" textLength="40" lengthAdjust="spacingAndGlyphs">113</text><use href="#th" x="327" y="406"/><text class="k l" x="345" y="424" textLength="30" lengthAdjust="spacingAndGlyphs">분양</text><text class="k l" x="345" y="447" textLength="30" lengthAdjust="spacingAndGlyphs">전용</text><text class="v" x="395" y="425" textLength="54" lengthAdjust="spacingAndGlyphs">26.37평</text><text class="v" x="395" y="447" textLength="53" lengthAdjust="spacingAndGlyphs">13.79평</text></g>
<g id="unit-112"><rect class="bn" x="260" y="512" width="56" height="30" rx="5"/><text class="n" x="288" y="538" textLength="40" lengthAdjust="spacingAndGlyphs">112</text><use href="#th" x="327" y="507"/><text class="k l" x="345" y="525" textLength="30" lengthAdjust="spacingAndGlyphs">분양</text><text class="k l" x="345" y="548" textLength="30" lengthAdjust="spacingAndGlyphs">전용</text><text class="v" x="395" y="526" textLength="54" lengthAdjust="spacingAndGlyphs">42.85평</text><text class="v" x="395" y="548" textLength="53" lengthAdjust="spacingAndGlyphs">22.41평</text></g>
<g id="unit-111"><rect class="bn" x="546" y="631" width="56" height="30" rx="5"/><text class="n" x="574" y="657" textLength="40" lengthAdjust="spacingAndGlyphs">111</text><use href="#th" x="613" y="625"/><text class="k l" x="631" y="643" textLength="30" lengthAdjust="spacingAndGlyphs">분양</text><text class="k l" x="631" y="666" textLength="30" lengthAdjust="spacingAndGlyphs">전용</text><text class="v" x="681" y="644" textLength="54" lengthAdjust="spacingAndGlyphs">20.74평</text><text class="v" x="681" y="666" textLength="53" lengthAdjust="spacingAndGlyphs">10.85평</text></g>
<g id="unit-110"><rect class="bn" x="268" y="719" width="56" height="30" rx="5"/><text class="n" x="296" y="745" textLength="40" lengthAdjust="spacingAndGlyphs">110</text><use href="#th" x="333" y="714"/><text class="k l" x="351" y="732" textLength="30" lengthAdjust="spacingAndGlyphs">분양</text><text class="k l" x="351" y="755" textLength="30" lengthAdjust="spacingAndGlyphs">전용</text><text class="v" x="402" y="733" textLength="54" lengthAdjust="spacingAndGlyphs">31.75평</text><text class="v" x="402" y="755" textLength="53" lengthAdjust="spacingAndGlyphs">16.61평</text></g>
<g id="unit-109"><rect class="bn" x="268" y="805" width="56" height="30" rx="5"/><text class="n" x="296" y="831" textLength="40" lengthAdjust="spacingAndGlyphs">109</text><use href="#th" x="333" y="798"/><text class="k l" x="351" y="816" textLength="30" lengthAdjust="spacingAndGlyphs">분양</text><text class="k l" x="351" y="839" textLength="30" lengthAdjust="spacingAndGlyphs">전용</text><text class="v" x="402" y="817" textLength="54" lengthAdjust="spacingAndGlyphs">27.69평</text><text class="v" x="402" y="839" textLength="53" lengthAdjust="spacingAndGlyphs">14.48평</text></g>
<g id="unit-108"><rect class="bn" x="268" y="887" width="56" height="30" rx="5"/><text class="n" x="296" y="913" textLength="40" lengthAdjust="spacingAndGlyphs">108</text><use href="#th" x="333" y="881"/><text class="k l" x="351" y="899" textLength="30" lengthAdjust="spacingAndGlyphs">분양</text><text class="k l" x="351" y="922" textLength="30" lengthAdjust="spacingAndGlyphs">전용</text><text class="v" x="402" y="900" textLength="54" lengthAdjust="spacingAndGlyphs">27.69평</text><text class="v" x="402" y="922" textLength="53" lengthAdjust="spacingAndGlyphs">14.48평</text></g>
<g id="unit-107"><rect class="bn" x="268" y="972" width="56" height="30" rx="5"/><text class="n" x="296" y="998" textLength="40" lengthAdjust="spacingAndGlyphs">107</text><use href="#th" x="333" y="964"/><text class="k l" x="351" y="982" textLength="30" lengthAdjust="spacingAndGlyphs">분양</text><text class="k l" x="351" y="1005" textLength="30" lengthAdjust="spacingAndGlyphs">전용</text><text class="v" x="402" y="983" textLength="54" lengthAdjust="spacingAndGlyphs">27.69평</text><text class="v" x="402" y="1005" textLength="53" lengthAdjust="spacingAndGlyphs">14.48평</text></g>
<g id="unit-106"><rect class="bn" x="357" y="1043" width="56" height="30" rx="5"/><text class="n" x="385" y="1069" textLength="40" lengthAdjust="spacingAndGlyphs">106</text><use href="#th" x="333" y="1080"/><text class="k l" x="351" y="1098" textLength="30" lengthAdjust="spacingAndGlyphs">분양</text><text class="k l" x="351" y="1121" textLength="30" lengthAdjust="spacingAndGlyphs">전용</text><text class="v" x="402" y="1099" textLength="54" lengthAdjust="spacingAndGlyphs">30.43평</text><text class="v" x="402" y="1121" textLength="53" lengthAdjust="spacingAndGlyphs">15.91평</text></g>
<g id="unit-117"><rect class="bn" x="524" y="156" width="56" height="30" rx="5"/><text class="n" x="552" y="182" textLength="40" lengthAdjust="spacingAndGlyphs">117</text><use href="#th" x="584" y="148"/><text class="k l" x="602" y="166" textLength="30" lengthAdjust="spacingAndGlyphs">분양</text><text class="k l" x="602" y="189" textLength="30" lengthAdjust="spacingAndGlyphs">전용</text><text class="v" x="652" y="167" textLength="54" lengthAdjust="spacingAndGlyphs">20.41평</text><text class="v" x="652" y="189" textLength="53" lengthAdjust="spacingAndGlyphs">10.67평</text></g>
<g id="unit-118"><rect class="bn" x="524" y="240" width="56" height="30" rx="5"/><text class="n" x="552" y="266" textLength="40" lengthAdjust="spacingAndGlyphs">118</text><use href="#th" x="584" y="230"/><text class="k l" x="602" y="248" textLength="30" lengthAdjust="spacingAndGlyphs">분양</text><text class="k l" x="602" y="271" textLength="30" lengthAdjust="spacingAndGlyphs">전용</text><text class="v" x="652" y="249" textLength="54" lengthAdjust="spacingAndGlyphs">17.00평</text><text class="v" x="657" y="271" textLength="45" lengthAdjust="spacingAndGlyphs">8.89평</text></g>
<g id="unit-105"><rect class="bn" x="562" y="938" width="56" height="30" rx="5"/><text class="n" x="590" y="964" textLength="40" lengthAdjust="spacingAndGlyphs">105</text><use href="#tv" x="562" y="982"/><text class="k l" x="590" y="999" textLength="29" lengthAdjust="spacingAndGlyphs">분양</text><text class="k l" x="590" y="1045" textLength="29" lengthAdjust="spacingAndGlyphs">전용</text><text class="v" x="590" y="1023" style="font-size:16px" textLength="50" lengthAdjust="spacingAndGlyphs">48.93평</text><text class="v" x="590" y="1069" style="font-size:16px" textLength="50" lengthAdjust="spacingAndGlyphs">25.59평</text></g>
<g id="unit-104"><rect class="bn" x="669" y="938" width="56" height="30" rx="5"/><text class="n" x="697" y="964" textLength="40" lengthAdjust="spacingAndGlyphs">104</text><use href="#tv" x="669" y="982"/><text class="k l" x="697" y="999" textLength="29" lengthAdjust="spacingAndGlyphs">분양</text><text class="k l" x="697" y="1045" textLength="29" lengthAdjust="spacingAndGlyphs">전용</text><text class="v" x="697" y="1023" style="font-size:16px" textLength="50" lengthAdjust="spacingAndGlyphs">27.94평</text><text class="v" x="697" y="1069" style="font-size:16px" textLength="49" lengthAdjust="spacingAndGlyphs">14.61평</text></g>
<g id="unit-103"><rect class="bn" x="751" y="938" width="56" height="30" rx="5"/><text class="n" x="779" y="964" textLength="40" lengthAdjust="spacingAndGlyphs">103</text><use href="#tv" x="751" y="982"/><text class="k l" x="779" y="999" textLength="29" lengthAdjust="spacingAndGlyphs">분양</text><text class="k l" x="779" y="1045" textLength="29" lengthAdjust="spacingAndGlyphs">전용</text><text class="v" x="779" y="1023" style="font-size:16px" textLength="50" lengthAdjust="spacingAndGlyphs">25.78평</text><text class="v" x="779" y="1069" style="font-size:16px" textLength="49" lengthAdjust="spacingAndGlyphs">13.49평</text></g>
<g id="unit-102"><rect class="bn" x="828" y="938" width="56" height="30" rx="5"/><text class="n" x="856" y="964" textLength="40" lengthAdjust="spacingAndGlyphs">102</text><use href="#tv" x="828" y="982"/><text class="k l" x="856" y="999" textLength="29" lengthAdjust="spacingAndGlyphs">분양</text><text class="k l" x="856" y="1045" textLength="29" lengthAdjust="spacingAndGlyphs">전용</text><text class="v" x="856" y="1023" style="font-size:16px" textLength="50" lengthAdjust="spacingAndGlyphs">25.65평</text><text class="v" x="856" y="1069" style="font-size:16px" textLength="49" lengthAdjust="spacingAndGlyphs">13.42평</text></g>
<g id="unit-101"><rect class="bn" x="905" y="938" width="56" height="30" rx="5"/><text class="n" x="933" y="964" textLength="40" lengthAdjust="spacingAndGlyphs">101</text><use href="#tv" x="905" y="982"/><text class="k l" x="933" y="999" textLength="29" lengthAdjust="spacingAndGlyphs">분양</text><text class="k l" x="933" y="1045" textLength="29" lengthAdjust="spacingAndGlyphs">전용</text><text class="v" x="933" y="1023" style="font-size:16px" textLength="50" lengthAdjust="spacingAndGlyphs">28.23평</text><text class="v" x="933" y="1069" style="font-size:16px" textLength="49" lengthAdjust="spacingAndGlyphs">14.77평</text></g>
<g id="labels">
<rect x="788" y="16" width="376" height="64" rx="9" fill="#b5121b"/>
<text class="k big" x="976" y="60" style="font-size:33px;font-weight:500" textLength="350" lengthAdjust="spacingAndGlyphs">1층 층고높이 : 약5.4~8.6m</text>
<path class="nv" d="M596,38H634L615,4Z"/>
<rect class="nv" x="519" y="43" width="191" height="54" rx="8"/>
<text class="k big" x="615" y="82" style="font-size:33px;font-weight:500" textLength="160" lengthAdjust="spacingAndGlyphs">태산W타워</text>
<rect class="bl" x="1017" y="207" width="142" height="50" rx="9"/>
<text class="k big" x="1088" y="244" style="font-size:33px" textLength="118" lengthAdjust="spacingAndGlyphs">15M도로</text>
<rect class="pk" x="881" y="286" width="129" height="31" rx="5"/>
<text class="k big" x="945" y="309" style="font-size:21px" textLength="115" lengthAdjust="spacingAndGlyphs">주차장 출입구</text>
<path class="rd" d="M935,322H957L945,340Z"/>
<path class="rd" d="M739,530V562L712,546Z"/>
<rect class="pk" x="748" y="523" width="86" height="43" rx="5"/>
<text class="k big" x="791" y="557" style="font-size:32px" textLength="76" lengthAdjust="spacingAndGlyphs">출입구</text>
<path class="rd" d="M215,657V690L244,673Z"/>
<rect class="pk" x="121" y="650" width="86" height="43" rx="5"/>
<text class="k big" x="164" y="683" style="font-size:32px" textLength="76" lengthAdjust="spacingAndGlyphs">출입구</text>
<rect class="bl" x="45" y="535" width="142" height="51" rx="9"/>
<text class="k big" x="116" y="573" style="font-size:33px" textLength="120" lengthAdjust="spacingAndGlyphs">20M도로</text>
<rect class="nv" x="974" y="578" width="142" height="52" rx="8"/>
<text class="k big" x="1045" y="616" style="font-size:35px;font-weight:500" textLength="124" lengthAdjust="spacingAndGlyphs">네스트원</text>
<path class="nv" d="M1127,583V620L1161,601Z"/>
<path class="rd" d="M491,1201H523L506,1172Z"/>
<rect class="pk" x="451" y="1211" width="110" height="42" rx="6"/>
<text class="k big" x="506" y="1244" style="font-size:31px" textLength="100" lengthAdjust="spacingAndGlyphs">주출입구</text>
<rect class="bl" x="605" y="1330" width="161" height="56" rx="9"/>
<text class="k big" x="685" y="1369" style="font-size:34px" textLength="136" lengthAdjust="spacingAndGlyphs">35M도로</text>
<rect x="854" y="1327" width="227" height="65" rx="14" fill="#0a4ca0"/>
<text class="k big" x="967" y="1376" style="font-size:44px;font-weight:700" textLength="193" lengthAdjust="spacingAndGlyphs">월드타워17</text>
<path class="rd" d="M1097,1335V1384L1141,1359Z"/>
<rect class="bl" x="32" y="1300" width="136" height="63" rx="9"/>
<text class="k big" x="100" y="1347" style="font-size:42px" textLength="113" lengthAdjust="spacingAndGlyphs">대로변</text>
<path class="bl" d="M81,1370H119L100,1404Z"/>
</g>
</svg>
